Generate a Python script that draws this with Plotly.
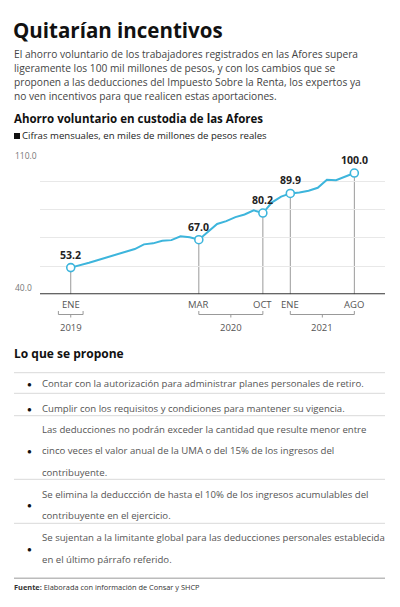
import plotly.graph_objects as go

W, H = 400, 607

# Ahorro voluntario mensual, ene 2019 - ago 2021 (miles de millones de pesos reales)
months = ["2019-01", "2019-02", "2019-03", "2019-04", "2019-05", "2019-06",
          "2019-07", "2019-08", "2019-09", "2019-10", "2019-11", "2019-12",
          "2020-01", "2020-02", "2020-03", "2020-04", "2020-05", "2020-06",
          "2020-07", "2020-08", "2020-09", "2020-10", "2020-11", "2020-12",
          "2021-01", "2021-02", "2021-03", "2021-04", "2021-05", "2021-06",
          "2021-07", "2021-08"]
values = [53.2, 54.3, 55.6, 57.0, 58.4, 59.9, 61.3, 62.4, 64.7, 65.2, 66.5, 66.8,
          68.7, 68.2, 67.0, 70.7, 74.8, 76.2, 78.2, 79.5, 81.5, 80.2, 85.5, 88.3,
          89.9, 90.4, 91.2, 92.7, 96.7, 96.4, 98.3, 100.0]

# meses destacados y su etiqueta en el eje
highlight = ["2019-01", "2020-03", "2020-10", "2021-01", "2021-08"]
highlight_labels = ["ENE", "MAR", "OCT", "ENE", "AGO"]

# llaves de año: (primer mes, último mes, año)
year_groups = [("2019-01", "2019-01", "2019"),
               ("2020-03", "2020-10", "2020"),
               ("2021-01", "2021-08", "2021")]

y_ticks = [40, 54, 68, 82, 96, 110]

proposals = [
    ["Contar con la autorización para administrar planes personales de retiro."],
    ["Cumplir con los requisitos y condiciones para mantener su vigencia."],
    ["Las deducciones no podrán exceder la cantidad que resulte menor entre",
     "cinco veces el valor anual de la UMA o del 15% de los ingresos del",
     "contribuyente."],
    ["Se elimina la deduccción de hasta el 10% de los ingresos acumulables del",
     "contribuyente en el ejercicio."],
    ["Se sujentan a la limitante global para las deducciones personales establecida",
     "en el último párrafo referido."],
]

intro = [
    "El ahorro voluntario de los trabajadores registrados en las Afores supera",
    "ligeramente los 100 mil millones de pesos, y con los cambios que se",
    "proponen a las deducciones del Impuesto Sobre la Renta, los expertos ya",
    "no ven incentivos para que realicen estas aportaciones.",
]

FONT = "Open Sans"
BLUE = "#3db5dc"


def py(y):
    return 1 - y / H


def px(x):
    return x / W


xs = list(range(len(months)))
hx = [months.index(m) for m in highlight]
hv = [values[i] for i in hx]

fig = go.Figure()
fig.add_trace(go.Scatter(x=xs, y=values, mode="lines",
                         line=dict(color=BLUE, width=2), hoverinfo="skip"))
fig.add_trace(go.Scatter(x=hx, y=hv, mode="markers",
                         marker=dict(size=8, color="white",
                                     line=dict(color=BLUE, width=1.6)),
                         hoverinfo="skip"))

shapes = []
annotations = []

# lineas verticales bajo los puntos destacados
for x, v in zip(hx, hv):
    shapes.append(dict(type="line", xref="x", yref="y", x0=x, x1=x, y0=40, y1=v,
                       line=dict(color="#9a9a9a", width=1), layer="below"))
    annotations.append(dict(xref="x", yref="y", x=x, y=v, text=f"<b>{v:.1f}</b>",
                            showarrow=False, yanchor="bottom", yshift=4,
                            font=dict(family=FONT, size=10.5, color="#222")))

# linea base
shapes.append(dict(type="line", xref="paper", yref="y", x0=px(40), x1=px(385),
                   y0=40, y1=40, line=dict(color="#333", width=2)))

# etiquetas de mes
for x, lab in zip(hx, highlight_labels):
    annotations.append(dict(xref="x", yref="paper", x=x, y=py(304), text=lab,
                            showarrow=False, yanchor="middle",
                            font=dict(family=FONT, size=9.5, color="#555")))

# llaves de año
for m0, m1, yr in year_groups:
    a, b = months.index(m0), months.index(m1)
    if a == b:
        a, b = a - 1.35, b + 1.35
    mid = (a + b) / 2
    for x0, x1, y0, y1 in [(a, a, 311, 314.5), (a, b, 314.5, 314.5),
                           (b, b, 311, 314.5), (mid, mid, 314.5, 317.5)]:
        shapes.append(dict(type="line", xref="x", yref="paper", x0=x0, x1=x1,
                           y0=py(y0), y1=py(y1), line=dict(color="#999", width=1)))
    annotations.append(dict(xref="x", yref="paper", x=mid, y=py(327), text=yr,
                            showarrow=False, yanchor="middle",
                            font=dict(family=FONT, size=9.5, color="#555")))

# etiquetas del eje y
for v, yy in [("110.0", 155), ("40.0", 287)]:
    annotations.append(dict(xref="paper", yref="paper", x=px(13), y=py(yy), text=v,
                            showarrow=False, xanchor="left", yanchor="middle",
                            font=dict(family=FONT, size=8.5, color="#777")))


def text(x, y, s, size, color="#444", bold=False):
    if bold:
        s = f"<b>{s}</b>"
    annotations.append(dict(xref="paper", yref="paper", x=px(x), y=py(y), text=s,
                            showarrow=False, xanchor="left", yanchor="middle",
                            font=dict(family=FONT, size=size, color=color)))


text(11, 30, "Quitarían incentivos", 20.5, "#111", True)
for i, line in enumerate(intro):
    text(12, 54 + 14 * i, line, 10.2, "#444")
text(12, 119, "Ahorro voluntario en custodia de las Afores", 11.5, "#111", True)
# cuadrito negro antes de la nota
shapes.append(dict(type="rect", xref="paper", yref="paper", x0=px(14), x1=px(20),
                   y0=py(139), y1=py(133), fillcolor="#111", line=dict(width=0)))
text(19.5, 136, "Cifras mensuales, en miles de millones de pesos reales", 9.6, "#222")
text(12, 353, "Lo que se propone", 12, "#111", True)

# tabla de propuestas
row_lines = [372.7, 393.3, 415.7, 479.3, 523.3]
row_text_y = [[384], [408.3], [429.3, 450.7, 472.7], [494, 515], [537.3, 559.3]]
for y in row_lines:
    shapes.append(dict(type="line", xref="paper", yref="paper", x0=px(14), x1=px(385),
                       y0=py(y), y1=py(y), line=dict(color="#d9d9d9", width=1)))
for lines, ys in zip(proposals, row_text_y):
    for s, y in zip(lines, ys):
        text(40, y, s, 9.6, "#555")
    text(24.5, sum(ys) / len(ys), "●", 8, "#111")

shapes.append(dict(type="line", xref="paper", yref="paper", x0=px(14), x1=px(385),
                   y0=py(578.3), y1=py(578.3), line=dict(color="#bbb", width=1.5)))
text(12, 587, "<b>Fuente:</b> Elaborada con información de Consar y SHCP", 7.4, "#333")

fig.update_layout(
    width=W, height=H,
    margin=dict(l=0, r=0, t=0, b=0),
    paper_bgcolor="white", plot_bgcolor="white",
    showlegend=False,
    shapes=shapes, annotations=annotations,
    xaxis=dict(domain=[px(40), px(385)], range=[-3.36, 34.35],
               showgrid=False, zeroline=False, showticklabels=False, fixedrange=True),
    yaxis=dict(domain=[py(294.3), py(152.7)], range=[40, 110.05],
               tickvals=y_ticks, showgrid=True, gridcolor="#e8e8e8", gridwidth=1,
               zeroline=False, showticklabels=False, fixedrange=True),
)

fig.write_html("out.html", config={"displayModeBar": False},
               post_script="document.body.style.margin='0';")
